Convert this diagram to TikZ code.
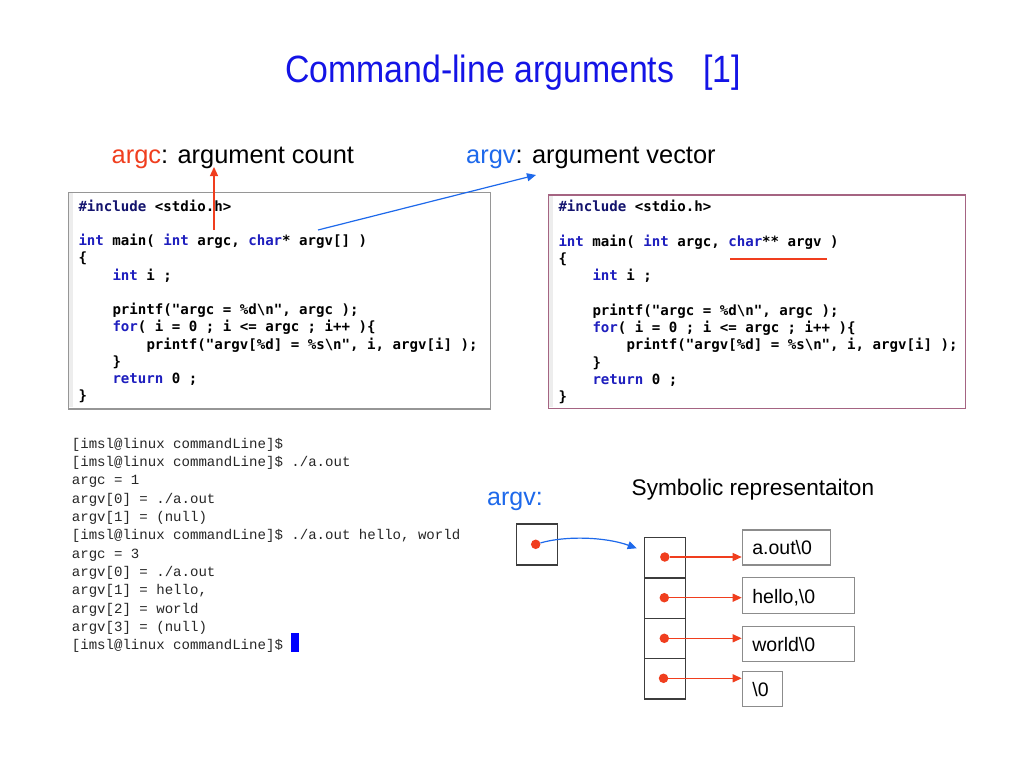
\documentclass[tikz,border=0pt]{standalone}
\usepackage{fontspec}
\usepackage{graphicx}
\setmainfont{Liberation Sans}
\newfontfamily\codefont{DejaVu Sans Mono}
\newfontfamily\termfont{Liberation Mono}
\usetikzlibrary{arrows.meta}
\definecolor{titleblue}{RGB}{20,20,230}
\definecolor{argred}{RGB}{240,62,30}
\definecolor{argblue}{RGB}{30,105,235}
\definecolor{kwblue}{RGB}{30,30,190}
\definecolor{incblue}{RGB}{20,20,110}
\definecolor{boxgray}{RGB}{150,150,150}
\definecolor{boxmauve}{RGB}{165,100,130}
\definecolor{cellgray}{RGB}{60,60,60}
\definecolor{strgray}{RGB}{140,140,140}
\newcommand\kwd[1]{\textcolor{kwblue}{#1}}
\newcommand\bsl{\textbackslash}
\tikzset{
  code/.style={anchor=base west, inner sep=0pt, font=\codefont\bfseries\fontsize{14.1}{17}\selectfont},
  term/.style={anchor=base west, inner sep=0pt, font=\termfont\fontsize{14.07}{18}\selectfont, text=black!85},
  codebox/.style={draw=boxgray, line width=1.4pt, anchor=north west, inner sep=0pt},
  cellbox/.style={draw=cellgray, line width=1.3pt, anchor=north west, inner sep=0pt, minimum width=40.5pt},
  strbox/.style={draw=strgray, line width=1.3pt, anchor=north west, inner xsep=10pt, inner ysep=0pt,
     align=left, text height=15pt, text depth=0pt, font=\fontsize{19.5}{22}\selectfont},
  dotnode/.style={circle, fill=argred, inner sep=0pt, minimum size=9.5pt},
  redarrow/.style={draw=argred, line width=1.3pt, -{Triangle[length=9pt,width=8pt]}},
  bluearrow/.style={draw=argblue, line width=1.2pt, -{Triangle[length=9pt,width=8pt]}},
  lbl/.style={anchor=base west, inner sep=0pt}
}
\begin{document}
\begin{tikzpicture}[x=1pt,y=-1pt]
\fill[white] (0,0) rectangle (1024,768);
\useasboundingbox (0,0) rectangle (1024,768);

% title
\node[lbl, text=titleblue, font=\fontsize{38}{40}\selectfont] (title) at (285,82)
  {\scalebox{0.89}[1]{Command-line arguments\hspace{32.6pt}[1]}};

% labels
\node[lbl, font=\fontsize{25.4}{28}\selectfont] (argclbl) at (111.5,163.5)
  {\textcolor{argred}{argc}: argument count};
\node[lbl, font=\fontsize{25.4}{28}\selectfont] (argvlbl) at (466,163.5)
  {\textcolor{argblue}{argv}: argument vector};

% left code box
\fill[black!7] (68,193) rectangle (73,407);
\node[codebox, minimum width=422.5pt, minimum height=216.5pt] (lbox) at (67.5,191.7) {};
\node[code] (L0) at (78.3,211) {\textcolor{incblue}{\#include} <stdio.h>};
\node[code] (L2) at (78.3,245.5) {\kwd{int} main( \kwd{int} argc, \kwd{char}* argv[] )};
\node[code] (L3) at (78.3,262.75) {\{};
\node[code] (L4) at (112.3,280) {\kwd{int} i ;};
\node[code] (L6) at (112.3,314.5) {printf("argc = \%d\bsl n", argc );};
\node[code] (L7) at (112.3,331.75) {\kwd{for}( i = 0 ; i <= argc ; i++ )\{};
\node[code] (L8) at (146.3,349) {printf("argv[\%d] = \%s\bsl n", i, argv[i] );};
\node[code] (L9) at (112.3,366.25) {\}};
\node[code] (L10) at (112.3,383.5) {\kwd{return} 0 ;};
\node[code] (L11) at (78.3,400.75) {\}};

% right code box
\fill[black!7] (548,195) rectangle (553,407);
\node[codebox, draw=boxmauve, minimum width=417.5pt, minimum height=213.5pt] (rbox) at (547.5,194.3) {};
\node[code] (R0) at (558.3,211.5) {\textcolor{incblue}{\#include} <stdio.h>};
\node[code] (R2) at (558.3,246.1) {\kwd{int} main( \kwd{int} argc, \kwd{char}** argv )};
\node[code] (R3) at (558.3,263.4) {\{};
\node[code] (R4) at (592.3,280.7) {\kwd{int} i ;};
\node[code] (R6) at (592.3,315.3) {printf("argc = \%d\bsl n", argc );};
\node[code] (R7) at (592.3,332.6) {\kwd{for}( i = 0 ; i <= argc ; i++ )\{};
\node[code] (R8) at (626.3,349.9) {printf("argv[\%d] = \%s\bsl n", i, argv[i] );};
\node[code] (R9) at (592.3,367.2) {\}};
\node[code] (R10) at (592.3,384.5) {\kwd{return} 0 ;};
\node[code] (R11) at (558.3,401.8) {\}};
\draw[argred, line width=1.2pt] (730,259) -- (827,259);

% arrows to labels
\coordinate (argcfrom) at (214,230);
\coordinate (argcto) at (214,167);
\coordinate (argvfrom) at (318,230);
\coordinate (argvto) at (536,175);
\draw[redarrow] (argcfrom) -- (argcto);
\draw[bluearrow] (argvfrom) -- (argvto);

% terminal
\node[term] (T0) at (71.7,448) {[imsl@linux commandLine]\$};
\node[term] (T1) at (71.7,466.3) {[imsl@linux commandLine]\$ ./a.out};
\node[term] (T2) at (71.7,484.7) {argc = 1};
\node[term] (T3) at (71.7,503) {argv[0] = ./a.out};
\node[term] (T4) at (71.7,521.3) {argv[1] = (null)};
\node[term] (T5) at (71.7,539.7) {[imsl@linux commandLine]\$ ./a.out hello, world};
\node[term] (T6) at (71.7,558) {argc = 3};
\node[term] (T7) at (71.7,576.3) {argv[0] = ./a.out};
\node[term] (T8) at (71.7,594.7) {argv[1] = hello,};
\node[term] (T9) at (71.7,613) {argv[2] = world};
\node[term] (T10) at (71.7,631.3) {argv[3] = (null)};
\node[term] (T11) at (71.7,649.7) {[imsl@linux commandLine]\$};
\fill[blue] (291,633) rectangle (299,652);

% symbolic representation
\node[lbl, text=argblue, font=\fontsize{25}{28}\selectfont] (argvname) at (487,505) {argv:};
\node[lbl, font=\fontsize{22.6}{25}\selectfont] (symlbl) at (631.5,495) {Symbolic representaiton};

\node[cellbox, minimum width=41pt, minimum height=41pt] (pbox) at (515.5,523.3) {};
\node[dotnode] (pdot) at (535.7,544.3) {};

\node[cellbox, minimum height=40.6pt] (c1) at (644,536.7) {};
\node[cellbox, minimum height=40.4pt] (c2) at (644,577.3) {};
\node[cellbox, minimum height=40pt] (c3) at (644,617.7) {};
\node[cellbox, minimum height=40.6pt] (c4) at (644,657.7) {};
\node[dotnode] (d1) at (664.8,557) {};
\node[dotnode] (d2) at (664.3,597.7) {};
\node[dotnode] (d3) at (664.3,638.3) {};
\node[dotnode] (d4) at (663.5,678.3) {};

\node[strbox, minimum height=35pt, text width=68.3pt] (s1) at (741.7,529.3) {a.out\bsl 0};
\node[strbox, minimum height=35.7pt, text width=92.3pt] (s2) at (741.7,577) {hello,\bsl 0};
\node[strbox, minimum height=35pt, text width=92.3pt] (s3) at (741.7,625.7) {world\bsl 0};
\node[strbox, minimum height=35pt, text width=20pt] (s4) at (741.7,671) {\bsl 0};

\coordinate (pend) at (636.7,548.3);
\draw[bluearrow] (pdot) .. controls (566,535.5) and (606,537) .. (pend);
\draw[redarrow] (d1) -- (d1 -| s1.west);
\draw[redarrow] (d2) -- (d2 -| s2.west);
\draw[redarrow] (d3) -- (d3 -| s3.west);
\draw[redarrow] (d4) -- (d4 -| s4.west);
\end{tikzpicture}
\end{document}
